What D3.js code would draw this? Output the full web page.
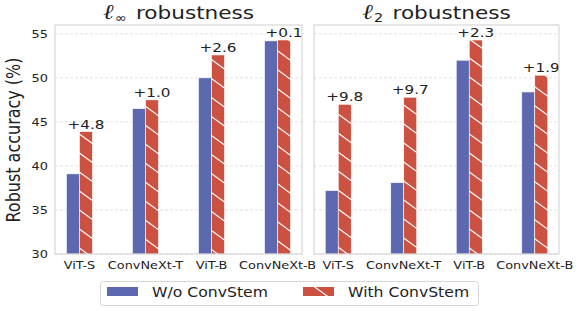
<!DOCTYPE html>
<html>
<head>
<meta charset="utf-8">
<script src="https://cdn.jsdelivr.net/npm/d3@7"></script>
<style>
  body { margin: 0; background: #fff; }
  text { font-family: 'DejaVu Sans', sans-serif; fill: #222; }
</style>
</head>
<body>
<script>
const models = ['ViT-S', 'ConvNeXt-T', 'ViT-B', 'ConvNeXt-B']
const series = ['W/o ConvStem', 'With ConvStem']
const linfWo = [39.1, 46.5, 50.0, 54.2]
const linfWith = [43.9, 47.5, 52.6, 54.3]
const l2Wo = [37.2, 38.1, 52.0, 48.4]
const l2With = [47.0, 47.8, 54.3, 50.3]
const linfGain = ['+4.8', '+1.0', '+2.6', '+0.1']
const l2Gain = ['+9.8', '+9.7', '+2.3', '+1.9']
const yTicks = [30, 35, 40, 45, 50, 55]

const width = 582
const height = 311
const blue = '#5c69b1'
const red = '#cc5141'
// the figure text is a bit wider than plain DejaVu
const sx = 1.17

const svg = d3.select('body')
    .append('svg')
    .attr('width', width)
    .attr('height', height)

const at = (x, y, s) => `translate(${x},${y}) scale(${s || sx},1)`

// hatch for the red bars
const defs = svg.append('defs')
const pat = defs.append('pattern')
    .attr('id', 'hatch')
    .attr('patternUnits', 'userSpaceOnUse')
    .attr('width', 26)
    .attr('height', 19)
pat.append('rect').attr('width', 26).attr('height', 19).attr('fill', red)
;[-19, 0, 19].forEach(o => {
    pat.append('line')
        .attr('x1', 0).attr('y1', o)
        .attr('x2', 26).attr('y2', o + 19)
        .attr('stroke', '#fff').attr('stroke-width', 1.1)
})

const y = d3.scaleLinear().domain([30, 56]).range([254, 25])

const panels = [
    {x0: 55, x1: 302, wo: linfWo, wi: linfWith, gain: linfGain, sub: '∞', left: true},
    {x0: 314, x1: 559, wo: l2Wo, wi: l2With, gain: l2Gain, sub: '2', left: false}
]

panels.forEach(p => {
    const g = svg.append('g')
    const x = d3.scalePoint().domain(models).range([p.x0, p.x1]).padding(0.37)
    const bw = 13

    // grid
    g.append('g').selectAll('line')
        .data(yTicks)
        .enter().append('line')
        .attr('x1', p.x0).attr('x2', p.x1)
        .attr('y1', d => y(d)).attr('y2', d => y(d))
        .attr('stroke', '#d9d9d9')
        .attr('stroke-dasharray', '3,2')
        .attr('stroke-width', 0.8)

    // bars
    g.append('g').selectAll('rect')
        .data(models)
        .enter().append('rect')
        .attr('x', d => x(d) - bw)
        .attr('y', (d, i) => y(p.wo[i]))
        .attr('width', bw)
        .attr('height', (d, i) => y(30) - y(p.wo[i]))
        .attr('fill', blue)
        .attr('stroke', '#fff')
        .attr('stroke-width', 0.6)
    g.append('g').selectAll('rect')
        .data(models)
        .enter().append('rect')
        .attr('x', d => x(d))
        .attr('y', (d, i) => y(p.wi[i]))
        .attr('width', bw)
        .attr('height', (d, i) => y(30) - y(p.wi[i]))
        .attr('fill', 'url(#hatch)')
        .attr('stroke', '#fff')
        .attr('stroke-width', 0.6)

    // gain labels
    g.append('g').selectAll('text')
        .data(models)
        .enter().append('text')
        .attr('transform', (d, i) => at(x(d) + bw / 2, y(p.wi[i]) - 3))
        .attr('text-anchor', 'middle')
        .attr('font-size', 13)
        .text((d, i) => p.gain[i])

    // frame
    g.append('rect')
        .attr('x', p.x0).attr('y', 25)
        .attr('width', p.x1 - p.x0).attr('height', 229)
        .attr('fill', 'none')
        .attr('stroke', '#d0d0d0')
        .attr('stroke-width', 1)

    // x tick labels
    g.append('g').selectAll('text.tick')
        .data(models)
        .enter().append('text')
        .attr('transform', d => at(x(d), 269))
        .attr('text-anchor', 'middle')
        .attr('font-size', 11)
        .text(d => d)

    // title
    const t = g.append('text')
        .attr('transform', at((p.x0 + p.x1) / 2, 19, 1.2))
        .attr('text-anchor', 'middle')
        .attr('font-size', 18)
    t.append('tspan').attr('font-style', 'italic').attr('font-family', 'DejaVu Serif')
        .attr('font-size', 21).text('ℓ')
    t.append('tspan').attr('font-size', 12).attr('dx', 1).attr('dy', 3).text(p.sub)
    t.append('tspan').attr('dy', -3).attr('dx', 2).text(' robustness')

    if (p.left) {
        g.append('g').selectAll('text')
            .data(yTicks)
            .enter().append('text')
            .attr('transform', d => at(48, y(d) + 4))
            .attr('text-anchor', 'end')
            .attr('font-size', 11)
            .text(d => d)
    }
})

svg.append('text')
    .attr('transform', `translate(20,140) scale(${sx},1) rotate(-90)`)
    .attr('text-anchor', 'middle')
    .attr('font-size', 16)
    .text('Robust accuracy (%)')

// legend
const lg = svg.append('g')
lg.append('rect')
    .attr('x', 100.5).attr('y', 281.5)
    .attr('width', 378).attr('height', 24)
    .attr('rx', 3)
    .attr('fill', '#fff')
    .attr('stroke', '#d6d6d6')
lg.append('rect')
    .attr('x', 107).attr('y', 287).attr('width', 31).attr('height', 9)
    .attr('fill', blue)
lg.append('text')
    .attr('transform', at(152, 297, 1.16))
    .attr('font-size', 13.5)
    .text(series[0])
lg.append('rect')
    .attr('x', 303).attr('y', 287).attr('width', 31).attr('height', 9)
    .attr('fill', 'url(#hatch)')
lg.append('text')
    .attr('transform', at(348, 297, 1.16))
    .attr('font-size', 13.5)
    .text(series[1])
</script>
</body>
</html>
